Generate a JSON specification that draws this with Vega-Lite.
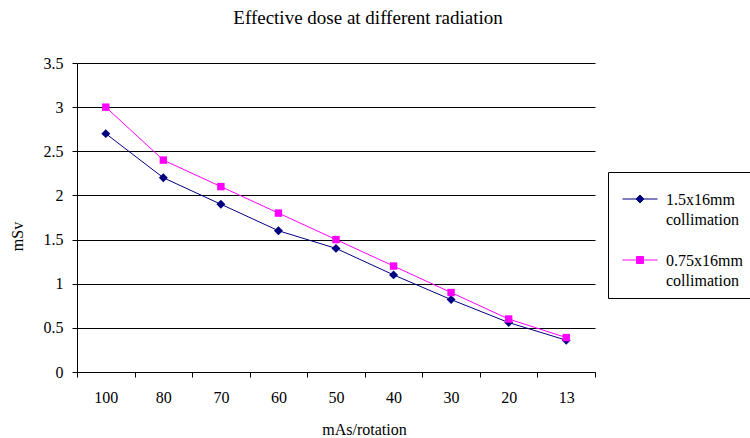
{
  "$schema": "https://vega.github.io/schema/vega-lite/v6.json",
  "width": 518,
  "height": 309,
  "autosize": {"type": "none"},
  "padding": {"left": 77, "top": 63, "right": 155, "bottom": 66},
  "background": "white",
  "config": {
    "view": {"stroke": null},
    "font": "Liberation Serif"
  },
  "title": {
    "text": "Effective dose at different radiation",
    "font": "Liberation Serif",
    "fontSize": 19,
    "fontWeight": "normal",
    "color": "black",
    "anchor": "middle",
    "dx": 32,
    "offset": 27
  },
  "data": {
    "values": [
      {"mAs": "100", "dose": 2.7, "series": "1.5x16mm collimation"},
      {"mAs": "80", "dose": 2.2, "series": "1.5x16mm collimation"},
      {"mAs": "70", "dose": 1.9, "series": "1.5x16mm collimation"},
      {"mAs": "60", "dose": 1.6, "series": "1.5x16mm collimation"},
      {"mAs": "50", "dose": 1.4, "series": "1.5x16mm collimation"},
      {"mAs": "40", "dose": 1.1, "series": "1.5x16mm collimation"},
      {"mAs": "30", "dose": 0.82, "series": "1.5x16mm collimation"},
      {"mAs": "20", "dose": 0.56, "series": "1.5x16mm collimation"},
      {"mAs": "13", "dose": 0.36, "series": "1.5x16mm collimation"},
      {"mAs": "100", "dose": 3.0, "series": "0.75x16mm collimation"},
      {"mAs": "80", "dose": 2.4, "series": "0.75x16mm collimation"},
      {"mAs": "70", "dose": 2.1, "series": "0.75x16mm collimation"},
      {"mAs": "60", "dose": 1.8, "series": "0.75x16mm collimation"},
      {"mAs": "50", "dose": 1.5, "series": "0.75x16mm collimation"},
      {"mAs": "40", "dose": 1.2, "series": "0.75x16mm collimation"},
      {"mAs": "30", "dose": 0.9, "series": "0.75x16mm collimation"},
      {"mAs": "20", "dose": 0.6, "series": "0.75x16mm collimation"},
      {"mAs": "13", "dose": 0.39, "series": "0.75x16mm collimation"}
    ]
  },
  "encoding": {
    "x": {
      "field": "mAs",
      "type": "ordinal",
      "sort": ["100", "80", "70", "60", "50", "40", "30", "20", "13"],
      "scale": {"type": "band", "paddingInner": 0, "paddingOuter": 0},
      "axis": {
        "title": "mAs/rotation",
        "titleFont": "Liberation Serif",
        "titleFontSize": 16,
        "titleFontWeight": "normal",
        "titleColor": "black",
        "titleX": 287,
        "titleY": 49,
        "labelFont": "Liberation Serif",
        "labelFontSize": 16,
        "labelColor": "black",
        "labelAngle": 0,
        "labelPadding": 12,
        "tickBand": "extent",
        "tickColor": "black",
        "tickSize": 5,
        "domainColor": "black",
        "grid": false
      }
    },
    "y": {
      "field": "dose",
      "type": "quantitative",
      "scale": {"domain": [0, 3.5]},
      "axis": {
        "title": "mSv",
        "titleFont": "Liberation Serif",
        "titleFontSize": 16,
        "titleFontWeight": "normal",
        "titleColor": "black",
        "titleBaseline": "alphabetic",
        "titleX": -55,
        "titleY": 173,
        "values": [0, 0.5, 1, 1.5, 2, 2.5, 3, 3.5],
        "format": "~g",
        "labelFont": "Liberation Serif",
        "labelFontSize": 16,
        "labelColor": "black",
        "labelPadding": 9,
        "tickColor": "black",
        "tickSize": 5,
        "domainColor": "black",
        "grid": true,
        "gridColor": "black",
        "gridOpacity": 1,
        "gridWidth": 1
      }
    },
    "color": {
      "field": "series",
      "type": "nominal",
      "sort": ["1.5x16mm collimation", "0.75x16mm collimation"],
      "scale": {"domain": ["1.5x16mm collimation", "0.75x16mm collimation"], "range": ["#000080", "#FF00FF"]},
      "legend": {
        "title": null,
        "orient": "none",
        "legendX": 531,
        "legendY": 109,
        "strokeColor": "black",
        "padding": 9,
        "fillColor": "white",
        "labelFont": "Liberation Serif",
        "labelFontSize": 16,
        "labelColor": "black",
        "labelBaseline": "top",
        "labelExpr": "split(datum.label, ' ')",
        "labelLimit": 200,
        "labelOffset": 8,
        "symbolOffset": 5,
        "rowPadding": 14,
        "symbolSize": 1225,
        "symbolStrokeWidth": 1,
        "encode": {
          "labels": {"update": {"lineHeight": {"value": 20}, "fontSize": {"value": 16}, "baseline": {"value": "top"}, "dy": {"value": -7}}},
          "symbols": {
            "update": {
              "shape": {"signal": "datum.value == '1.5x16mm collimation' ? 'M-1,0H1M0,-0.23L0.22,0L0,0.23L-0.22,0Z' : 'M-1,0H1M-0.2,-0.2H0.2V0.2H-0.2Z'"},
              "fill": {"signal": "datum.value == '1.5x16mm collimation' ? '#000080' : '#FF00FF'"},
              "stroke": {"signal": "datum.value == '1.5x16mm collimation' ? '#000080' : '#FF00FF'"},
              "opacity": {"value": 1},
              "fillOpacity": {"value": 1},
              "strokeWidth": {"value": 1}
            }
          }
        }
      }
    }
  },
  "layer": [
    {"mark": {"type": "line", "strokeWidth": 1}},
    {
      "transform": [{"filter": "datum.series == '1.5x16mm collimation'"}],
      "mark": {"type": "point", "filled": true, "opacity": 1, "shape": "diamond", "size": 80}
    },
    {
      "transform": [{"filter": "datum.series == '0.75x16mm collimation'"}],
      "mark": {"type": "point", "filled": true, "opacity": 1, "shape": "square", "size": 55}
    }
  ]
}
